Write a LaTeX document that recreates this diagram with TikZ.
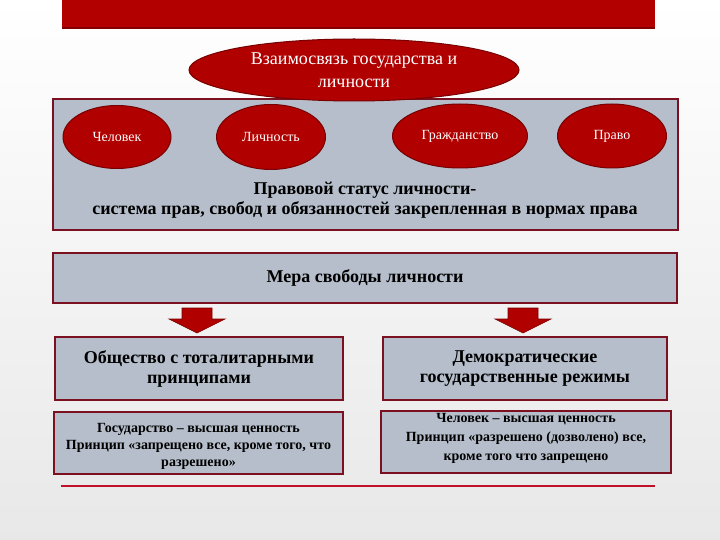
\documentclass[tikz,border=0pt]{standalone}
\usepackage{fontspec}
\setmainfont{Liberation Serif}
\usetikzlibrary{shapes.geometric}

\definecolor{barred}{HTML}{B20000}
\definecolor{ovalred}{HTML}{B00000}
\definecolor{ovaledge}{HTML}{780000}
\definecolor{boxgray}{HTML}{B5BECA}
\definecolor{boxedge}{HTML}{7A1020}
\definecolor{linered}{HTML}{C0102A}

\tikzset{
	oval/.style={ellipse, draw=ovaledge, fill=ovalred, line width=1pt, text=white, inner sep=0pt, font=\fontsize{14}{16}\selectfont},
	panel/.style={rectangle, draw=boxedge, fill=boxgray, line width=1.6pt, inner sep=0pt, align=center},
	bigtext/.style={align=center, font=\bfseries\fontsize{18}{20}\selectfont},
	smalltext/.style={align=center, font=\bfseries\fontsize{14}{17}\selectfont},
	blockarrow/.style={fill=ovalred, draw=ovaledge, line width=0.6pt},
	blockdown/.pic={\path[blockarrow] (-15,0) -- (15,0) -- (15,11) -- (28,11) -- (0,25) -- (-28,11) -- (-15,11) -- cycle;}
}

\begin{document}
\begin{tikzpicture}[x=1pt,y=-1pt]
	\useasboundingbox (0,0) rectangle (720,540);
	\shade[top color=white, bottom color=black!9] (0,0) rectangle (720,540);
	\fill[barred] (62,0) rectangle (655,29);
	\fill[ovaledge!80!barred] (62,27) rectangle (655,29);

	% top block with ovals
	\node (status) at (365.5,164.5) [panel, minimum width=625pt, minimum height=131pt] {};
	\node (svyaz) at (354,70) [oval, minimum width=330pt, minimum height=62pt, align=center, font=\fontsize{18}{23}\selectfont]
		{Взаимосвязь государства и\\личности};
	\node (chelovek) at (117,137) [oval, minimum width=108pt, minimum height=63pt] {Человек};
	\node (lichnost) at (271,137) [oval, minimum width=109pt, minimum height=65pt] {Личность};
	\node (grazhd) at (460,136) [oval, minimum width=135pt, minimum height=64pt] {Гражданство};
	\node (pravo) at (612,136) [oval, minimum width=109pt, minimum height=64pt] {Право};
	\node (statustext) at (365,200) [bigtext] {Правовой статус личности-\\система прав, свобод и обязанностей закрепленная в нормах права};

	% measure of freedom
	\node (mera) at (365,278) [panel, minimum width=624pt, minimum height=50pt, bigtext] {Мера свободы личности};
	\coordinate (arrL) at (197,308);
	\coordinate (arrR) at (523,308);
	\pic at (arrL) {blockdown};
	\pic at (arrR) {blockdown};

	% two columns
	\node (obsh) at (199,368.5) [panel, minimum width=288pt, minimum height=63pt, bigtext] {Общество с тоталитарными\\принципами};
	\node (demo) at (525,368.5) [panel, minimum width=284pt, minimum height=63pt, bigtext] {Демократические\\государственные режимы};
	\node (gos) at (198.5,443) [panel, minimum width=289pt, minimum height=62pt] {};
	\node (gostext) at (198.5,446) [smalltext] {Государство -- высшая ценность\\Принцип «запрещено все, кроме того, что\\разрешено»};
	\node (chel) at (526,442) [panel, minimum width=290pt, minimum height=62pt] {};
	\node (cheltext) at (526,438) [smalltext, font=\bfseries\fontsize{14}{19}\selectfont] {Человек -- высшая ценность\\Принцип «разрешено (дозволено) все,\\кроме того что запрещено};

	\coordinate (lineA) at (61,486);
	\coordinate (lineB) at (655,486);
	\draw[linered, line width=2pt] (lineA) -- (lineB);
\end{tikzpicture}
\end{document}
